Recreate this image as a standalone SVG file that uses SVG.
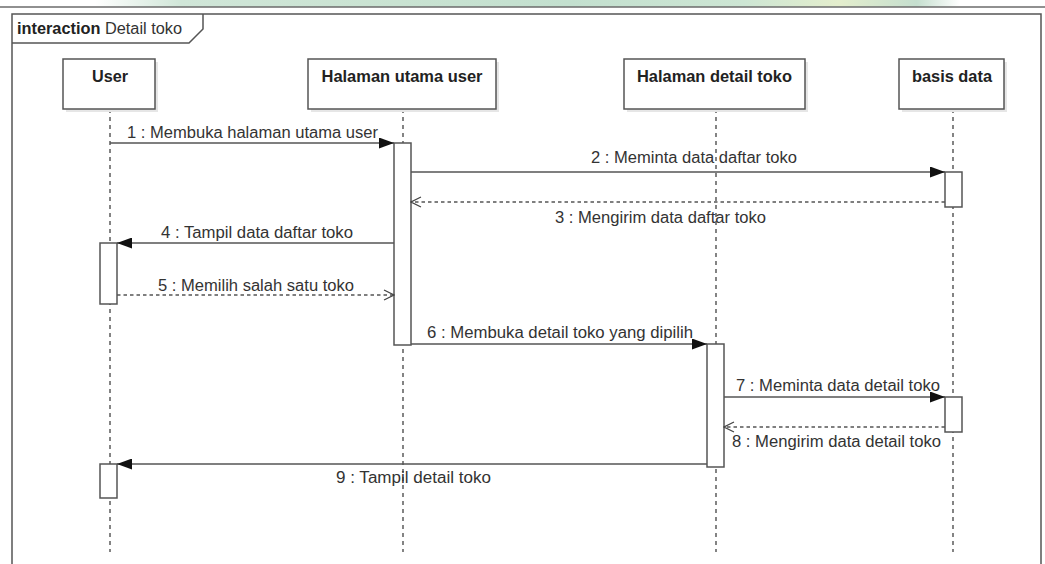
<svg xmlns="http://www.w3.org/2000/svg" width="1045" height="564" viewBox="0 0 1045 564">
  <defs>
    <style>
      .frame { fill: none; stroke: #555; stroke-width: 1.5; }
      .box { fill: #fff; stroke: #555; stroke-width: 1.5; }
      .shadow { fill: #e6e6e6; }
      .life { stroke: #333; stroke-width: 1.2; stroke-dasharray: 4 4; fill: none; }
      .act { fill: #fff; stroke: #555; stroke-width: 1.5; }
      .msg { stroke: #555; stroke-width: 1.5; fill: none; }
      .ret { stroke: #555; stroke-width: 1.3; stroke-dasharray: 3.5 3; fill: none; }
      .lbl { font-family: "Liberation Sans", Arial, sans-serif; font-size: 16px; fill: #333; }
      .head { font-family: "Liberation Sans", Arial, sans-serif; font-size: 16px; font-weight: bold; fill: #222; text-anchor: middle; }
    </style>
    <marker id="sync" viewBox="0 0 15 11" refX="15" refY="5.5" markerWidth="15" markerHeight="11" markerUnits="userSpaceOnUse" orient="auto">
      <path d="M0,0 L15,5.5 L0,11 Z" fill="#111"/>
    </marker>
    <marker id="open" viewBox="0 0 12 12" refX="11" refY="6" markerWidth="12" markerHeight="12" markerUnits="userSpaceOnUse" orient="auto">
      <path d="M1,1 L11,6 L1,11" fill="none" stroke="#444" stroke-width="1.2"/>
    </marker>
    <linearGradient id="band" x1="0" y1="0" x2="1" y2="0">
      <stop offset="0" stop-color="#ffffff"/>
      <stop offset="0.1" stop-color="#d0e6d8"/>
      <stop offset="0.35" stop-color="#c9e3d2"/>
      <stop offset="0.55" stop-color="#c3e0cf"/>
      <stop offset="0.75" stop-color="#cde6d4"/>
      <stop offset="0.86" stop-color="#e4eecd"/>
      <stop offset="0.95" stop-color="#c5dfcf"/>
      <stop offset="1" stop-color="#ffffff"/>
    </linearGradient>
  </defs>

  <rect width="1045" height="564" fill="#fff"/>

  <!-- page header strip -->
  <rect x="95" y="0" width="865" height="6.5" fill="url(#band)"/>
  <line x1="0" y1="7" x2="1045" y2="7" stroke="#222" stroke-width="1.2"/>

  <!-- interaction frame -->
  <g id="frame">
    <path class="frame" d="M12,580 L12,14 L1041,14 L1041,580"/>
    <path class="frame" d="M12,43 L189,43 L203,29 L203,14"/>
    <text x="17" y="34" class="lbl" font-size="15.5" textLength="165" lengthAdjust="spacingAndGlyphs"><tspan font-weight="bold" fill="#222">interaction</tspan> Detail toko</text>
  </g>

  <!-- lifelines -->
  <g id="lifelines">
    <line class="life" x1="110" y1="109" x2="110" y2="552"/>
    <line class="life" x1="403" y1="109" x2="403" y2="552"/>
    <line class="life" x1="716" y1="109" x2="716" y2="552"/>
    <line class="life" x1="953" y1="109" x2="953" y2="552"/>
  </g>

  <g id="user">
    <rect class="shadow" x="66" y="62" width="92" height="50"/>
    <rect class="box" x="63" y="59" width="92" height="50"/>
    <text class="head" x="110" y="82" textLength="36" lengthAdjust="spacingAndGlyphs">User</text>
  </g>
  <g id="halaman-utama-user">
    <rect class="shadow" x="311" y="62" width="188" height="50"/>
    <rect class="box" x="308" y="59" width="188" height="50"/>
    <text class="head" x="402" y="82" textLength="161" lengthAdjust="spacingAndGlyphs">Halaman utama user</text>
  </g>
  <g id="halaman-detail-toko">
    <rect class="shadow" x="627" y="62" width="181" height="50"/>
    <rect class="box" x="624" y="59" width="181" height="50"/>
    <text class="head" x="714.5" y="82" textLength="155" lengthAdjust="spacingAndGlyphs">Halaman detail toko</text>
  </g>
  <g id="basis-data">
    <rect class="shadow" x="902" y="62" width="105" height="50"/>
    <rect class="box" x="899" y="59" width="105" height="50"/>
    <text class="head" x="952" y="82" textLength="80" lengthAdjust="spacingAndGlyphs">basis data</text>
  </g>

  <!-- activation bars -->
  <g id="activations">
    <rect class="act" x="394" y="143" width="17" height="202"/>
    <rect class="act" x="100" y="243" width="17" height="61"/>
    <rect class="act" x="945" y="172" width="17" height="35"/>
    <rect class="act" x="707" y="344" width="17" height="123"/>
    <rect class="act" x="945" y="397" width="17" height="35"/>
    <rect class="act" x="100" y="464" width="17" height="34"/>
  </g>

  <!-- messages -->
  <g id="connectors">
    <line class="msg" x1="110" y1="143" x2="394" y2="143" marker-end="url(#sync)"/>
    <line class="msg" x1="411" y1="172" x2="945" y2="172" marker-end="url(#sync)"/>
    <line class="ret" x1="945" y1="202" x2="411" y2="202" marker-end="url(#open)"/>
    <line class="msg" x1="394" y1="243" x2="117" y2="243" marker-end="url(#sync)"/>
    <line class="ret" x1="117" y1="295" x2="394" y2="295" marker-end="url(#open)"/>
    <line class="msg" x1="411" y1="344" x2="707" y2="344" marker-end="url(#sync)"/>
    <line class="msg" x1="724" y1="397" x2="945" y2="397" marker-end="url(#sync)"/>
    <line class="ret" x1="945" y1="427" x2="724" y2="427" marker-end="url(#open)"/>
    <line class="msg" x1="707" y1="464" x2="117" y2="464" marker-end="url(#sync)"/>
  </g>

  <!-- message labels -->
  <g id="labels">
    <text class="lbl" x="127" y="138" textLength="251" lengthAdjust="spacingAndGlyphs">1 : Membuka halaman utama user</text>
    <text class="lbl" x="591" y="163" textLength="206" lengthAdjust="spacingAndGlyphs">2 : Meminta data daftar toko</text>
    <text class="lbl" x="555" y="223" textLength="211" lengthAdjust="spacingAndGlyphs">3 : Mengirim data daftar toko</text>
    <text class="lbl" x="161" y="238" textLength="192" lengthAdjust="spacingAndGlyphs">4 : Tampil data daftar toko</text>
    <text class="lbl" x="158" y="291" textLength="196" lengthAdjust="spacingAndGlyphs">5 : Memilih salah satu toko</text>
    <text class="lbl" x="427" y="338" textLength="266" lengthAdjust="spacingAndGlyphs">6 : Membuka detail toko yang dipilih</text>
    <text class="lbl" x="736" y="391" textLength="204" lengthAdjust="spacingAndGlyphs">7 : Meminta data detail toko</text>
    <text class="lbl" x="732" y="447" textLength="209" lengthAdjust="spacingAndGlyphs">8 : Mengirim data detail toko</text>
    <text class="lbl" x="336" y="483" textLength="155" lengthAdjust="spacingAndGlyphs">9 : Tampil detail toko</text>
  </g>
</svg>
